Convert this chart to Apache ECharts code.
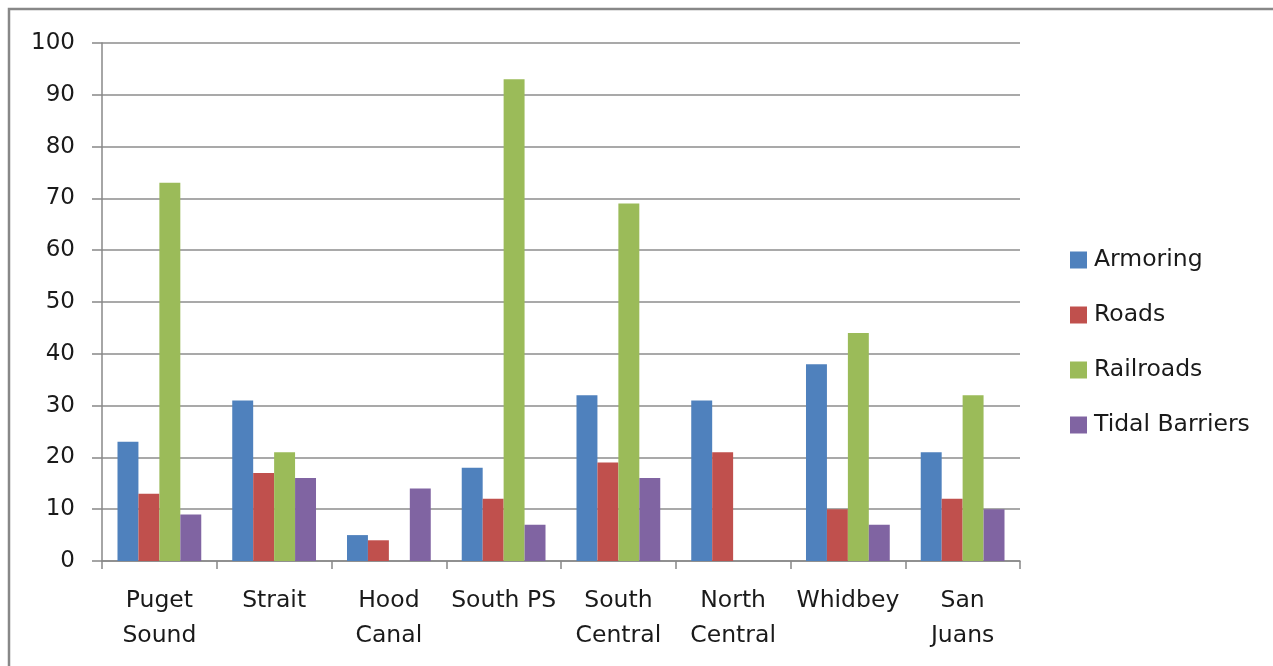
<!DOCTYPE html>
<html>
<head>
<meta charset="utf-8">
<script src="https://cdn.jsdelivr.net/npm/echarts@6/dist/echarts.min.js"></script>
<style>
html,body{margin:0;padding:0;background:#fff;}
#chart{width:1273px;height:666px;}
</style>
</head>
<body>
<div id="chart"></div>
<script>
const categories = ['Puget\nSound', 'Strait', 'Hood\nCanal', 'South PS', 'South\nCentral', 'North\nCentral', 'Whidbey', 'San\nJuans'];
const armoring = [23, 31, 5, 18, 32, 31, 38, 21];
const roads = [13, 17, 4, 12, 19, 21, 10, 12];
const railroads = [73, 21, '-', 93, 69, '-', 44, 32];
const tidalBarriers = [9, 16, 14, 7, 16, '-', 7, 10];
const seriesNames = ['Armoring', 'Roads', 'Railroads', 'Tidal Barriers'];
const colors = ['#4F81BD', '#C0504D', '#9BBB59', '#8064A2'];

const font = 'DejaVu Sans';
const chart = echarts.init(document.getElementById('chart'), null, {renderer: 'canvas'});
const dataSets = [armoring, roads, railroads, tidalBarriers];

chart.setOption({
  animation: false,
  backgroundColor: '#fff',
  color: colors,
  graphic: [{
    type: 'rect',
    shape: {x: 9, y: 9, width: 1400, height: 800},
    style: {fill: 'none', stroke: '#888888', lineWidth: 2.5},
    silent: true,
    z: 100
  }],
  grid: {left: 102, right: 253, top: 43, bottom: 105},
  legend: {
    orient: 'vertical',
    left: 1070,
    top: 248,
    padding: 0,
    itemWidth: 17,
    itemHeight: 17,
    itemGap: 31,
    icon: 'rect',
    textStyle: {fontFamily: font, fontSize: 23.5, lineHeight: 23, color: '#1a1a1a', padding: [0, 0, 0, 2]},
    data: seriesNames
  },
  xAxis: {
    type: 'category',
    data: categories,
    boundaryGap: true,
    axisLine: {lineStyle: {color: '#888888', width: 1.5}},
    axisTick: {show: true, length: 8, alignWithLabel: false, lineStyle: {color: '#888888', width: 1.5}},
    axisLabel: {fontFamily: font, fontSize: 23.5, lineHeight: 35, color: '#1a1a1a', margin: 22, interval: 0}
  },
  yAxis: {
    type: 'value',
    min: 0,
    max: 100,
    interval: 10,
    axisLine: {show: true, lineStyle: {color: '#888888', width: 1.5}},
    axisTick: {show: true, length: 10, lineStyle: {color: '#888888', width: 1.5}},
    axisLabel: {fontFamily: font, fontSize: 23, color: '#1a1a1a', margin: 27},
    splitLine: {show: true, lineStyle: {color: '#8c8c8c', width: 1.5}}
  },
  series: seriesNames.map((name, i) => ({
    name: name,
    type: 'bar',
    data: dataSets[i],
    barGap: '0%',
    barCategoryGap: '27%',
    itemStyle: {color: colors[i]}
  }))
});
</script>
</body>
</html>
